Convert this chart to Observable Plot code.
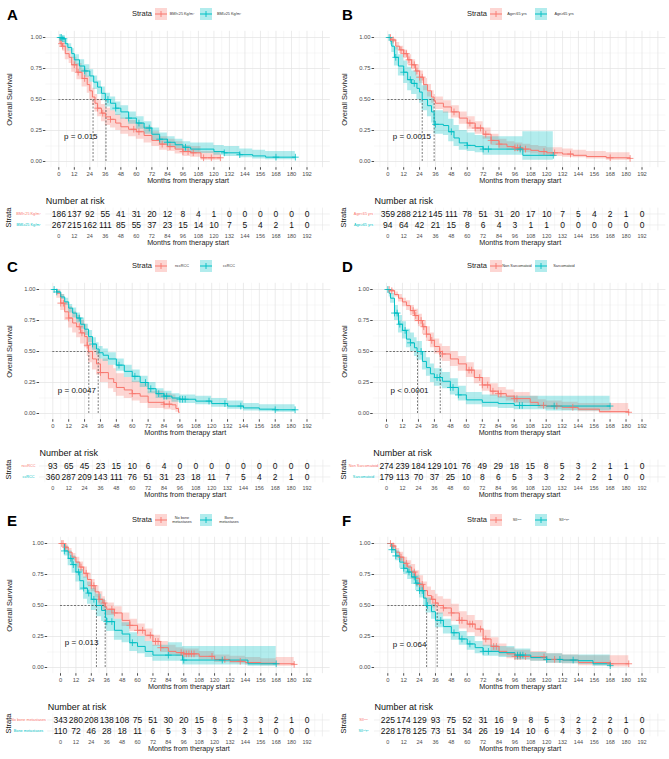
<!DOCTYPE html>
<html><head><meta charset="utf-8">
<script src="https://cdn.jsdelivr.net/npm/d3@7"></script>
<script src="https://cdn.jsdelivr.net/npm/@observablehq/plot@0.6"></script>
<style>
body{margin:0;background:#fff;font-family:"Liberation Sans",Arial,sans-serif;}
#fig{position:relative;width:669px;height:759px;overflow:hidden;background:#fff;}
.panel{position:absolute;width:335px;height:252px;}
.panel svg{position:absolute;left:0;}
.letter{position:absolute;left:7px;top:7px;font-size:15px;font-weight:bold;line-height:1;color:#000;}
.leg{position:absolute;top:8px;height:12px;font-size:7.5px;color:#222;line-height:12px;}
.legtxt{position:absolute;top:0;font-size:3.8px;line-height:4.2px;color:#333;text-align:center;white-space:pre;transform:translate(-50%,-50%);}
</style></head>
<body><div id="fig"></div>
<script>
const COLORS = ["#F8766D", "#00BFC4"];
const xTicks = [0,12,24,36,48,60,72,84,96,108,120,132,144,156,168,180,192];
const yTicks = [0,0.25,0.5,0.75,1];

// ---------- Panel A: BMI ----------
const legendA = ["BMI<25 Kg/m²", "BMI≥25 Kg/m²"];
const strataA = ["BMI<25 Kg/m²", "BMI≥25 Kg/m²"];
const kmA_red = [[0,1,1,1],[1,.95,.92,.98],[3,.93,.89,.97],[5,.87,.82,.92],[8,.84,.79,.89],[10,.78,.72,.84],[14,.72,.66,.79],[18,.67,.60,.74],[22,.62,.55,.69],[24,.57,.50,.64],[26,.52,.45,.59],[28,.47,.40,.54],[30,.43,.36,.50],[33,.39,.32,.46],[36,.36,.29,.43],[40,.34,.27,.41],[44,.31,.25,.38],[48,.28,.22,.35],[54,.26,.20,.33],[60,.24,.18,.31],[66,.21,.15,.28],[72,.17,.12,.24],[78,.14,.09,.20],[84,.12,.08,.18],[90,.10,.06,.16],[96,.08,.04,.13],[102,.07,.035,.12],[110,.03,.01,.08],[125,.03,.01,.08]];
const kmA_teal = [[0,1,1,1],[3,.99,.98,1],[5,.95,.92,.98],[7,.92,.89,.95],[10,.87,.83,.91],[12,.82,.77,.86],[16,.77,.72,.82],[20,.73,.68,.78],[24,.69,.64,.74],[27,.64,.58,.69],[30,.60,.54,.65],[33,.55,.49,.60],[36,.50,.44,.55],[40,.47,.41,.52],[44,.43,.37,.48],[48,.40,.34,.45],[54,.35,.30,.40],[60,.31,.26,.36],[66,.27,.22,.32],[72,.22,.17,.27],[78,.18,.14,.23],[84,.155,.12,.20],[90,.135,.10,.18],[96,.115,.08,.16],[102,.10,.065,.15],[120,.08,.05,.13],[128,.07,.04,.12],[140,.055,.03,.10],[150,.045,.02,.09],[160,.035,.015,.08],[183,.035,.015,.08]];
const censA_red = [2,3,12,15,20,30,34,40,58,62,80,86,96,100,104,112,118,125];
const censA_teal = [1,2,3,4,20,38,44,54,62,70,78,84,98,128,140,168,183];
const riskA_red = [186,137,92,55,41,31,20,12,8,4,1,0,0,0,0,0,0];
const riskA_teal = [267,215,162,111,85,55,37,23,15,14,10,7,5,4,2,1,0];
const medianA = [26.5, 36.5];
const pA = "p = 0.015";

// ---------- Panel B: Age ----------
const legendB = ["Age<65 yrs", "Age≥65 yrs"];
const strataB = ["Age<65 yrs", "Age≥65 yrs"];
const kmB_red = [[0,1,1,1],[3,.98,.96,.99],[6,.93,.90,.96],[9,.90,.87,.93],[12,.87,.83,.90],[15,.82,.78,.86],[18,.78,.74,.82],[21,.73,.69,.78],[24,.68,.63,.73],[27,.62,.57,.67],[30,.57,.52,.62],[33,.52,.47,.57],[35,.49,.44,.54],[36,.47,.42,.52],[42,.44,.39,.49],[48,.40,.35,.45],[54,.35,.30,.40],[60,.31,.26,.36],[66,.27,.22,.32],[72,.22,.18,.27],[78,.17,.13,.22],[84,.14,.10,.18],[90,.12,.09,.16],[96,.11,.08,.15],[102,.10,.07,.14],[108,.09,.06,.13],[114,.08,.05,.12],[120,.07,.04,.11],[132,.06,.035,.10],[140,.05,.03,.09],[150,.04,.02,.08],[165,.03,.01,.07],[183,.025,.01,.07]];
const kmB_teal = [[0,1,1,1],[2,.97,.94,1],[3,.93,.88,.98],[5,.84,.77,.92],[8,.77,.69,.86],[12,.72,.63,.81],[15,.66,.57,.76],[18,.63,.54,.73],[22,.59,.50,.69],[24,.56,.47,.67],[26,.50,.41,.61],[30,.45,.36,.56],[33,.40,.31,.51],[35,.30,.22,.41],[42,.29,.21,.40],[46,.24,.16,.34],[50,.19,.12,.29],[54,.15,.09,.25],[60,.13,.08,.23],[66,.12,.07,.21],[72,.10,.05,.20],[102,.05,.01,.24],[125,.05,.01,.24]];
const censB_red = [2,4,10,12,14,16,18,20,22,24,26,50,62,66,70,74,78,84,96,98,100,104,118,126,138,168,183];
const censB_teal = [1,6,12,17,20,36,48,60,72,76,100,125];
const riskB_red = [359,288,212,145,111,78,51,31,20,17,10,7,5,4,2,1,0];
const riskB_teal = [94,64,42,21,15,8,6,4,3,1,1,0,0,0,0,0,0];
const medianB = [35, 26];
const pB = "p = 0.0015";

// ---------- Panel C: histology ----------
const legendC = ["nccRCC", "ccRCC"];
const strataC = ["nccRCC", "ccRCC"];
const kmC_red = [[0,1,1,1],[3,.97,.93,1],[6,.89,.83,.96],[9,.82,.75,.90],[12,.77,.69,.86],[15,.73,.65,.82],[18,.70,.61,.79],[21,.65,.56,.75],[24,.62,.53,.72],[26,.55,.46,.66],[27,.50,.41,.61],[30,.44,.35,.55],[33,.40,.31,.51],[36,.33,.25,.44],[42,.28,.20,.39],[46,.25,.17,.36],[48,.21,.14,.32],[54,.19,.12,.29],[60,.16,.10,.26],[66,.14,.08,.24],[72,.09,.04,.18],[84,.075,.03,.16],[90,.07,.025,.15],[93,.04,.01,.12],[95,.01,0,.05],[95.6,.01,0,.05]];
const kmC_teal = [[0,1,1,1],[3,.98,.97,.99],[6,.94,.92,.96],[9,.90,.87,.93],[12,.85,.81,.88],[15,.81,.77,.85],[18,.77,.73,.81],[21,.72,.68,.77],[24,.68,.63,.72],[27,.62,.57,.67],[30,.56,.51,.61],[33,.52,.47,.57],[35,.49,.44,.54],[38,.47,.42,.52],[42,.44,.39,.49],[48,.39,.34,.44],[54,.34,.29,.39],[60,.30,.25,.35],[66,.25,.21,.30],[72,.20,.16,.25],[78,.16,.12,.20],[84,.14,.11,.18],[90,.125,.09,.16],[96,.115,.08,.15],[108,.10,.07,.14],[120,.08,.05,.12],[132,.06,.035,.10],[144,.045,.02,.08],[156,.035,.015,.07],[168,.03,.01,.07],[183,.03,.01,.07]];
const censC_red = [6,8,12,20,22,26,36,60,84,88];
const censC_teal = [1,3,20,30,50,62,70,74,80,84,86,96,98,100,118,130,142,168,183];
const riskC_red = [93,65,45,23,15,10,6,4,0,0,0,0,0,0,0,0,0];
const riskC_teal = [360,287,209,143,111,76,51,31,23,18,11,7,5,4,2,1,0];
const medianC = [27.2, 34.3];
const pC = "p = 0.0047";

// ---------- Panel D: sarcomatoid ----------
const legendD = ["Non Sarcomatoid", "Sarcomatoid"];
const strataD = ["Non Sarcomatoid", "Sarcomatoid"];
const kmD_red = [[0,1,1,1],[3,.99,.98,1],[6,.96,.94,.98],[9,.93,.90,.96],[12,.90,.86,.93],[15,.87,.83,.91],[18,.83,.79,.87],[21,.79,.74,.84],[24,.75,.70,.80],[27,.70,.64,.75],[30,.64,.58,.70],[33,.59,.53,.65],[36,.54,.48,.60],[40,.50,.44,.56],[42,.48,.42,.54],[48,.44,.38,.50],[54,.40,.34,.46],[60,.35,.29,.41],[66,.29,.24,.35],[72,.23,.18,.29],[78,.18,.14,.24],[84,.16,.12,.21],[90,.14,.10,.19],[96,.12,.08,.17],[108,.09,.06,.14],[114,.065,.04,.11],[120,.06,.035,.10],[132,.05,.025,.09],[144,.035,.015,.08],[160,.015,0,.08],[182,.01,0,.08]];
const kmD_teal = [[0,1,1,1],[2,.97,.94,.99],[3,.93,.89,.97],[6,.81,.75,.87],[9,.72,.65,.79],[12,.67,.60,.74],[15,.60,.53,.68],[18,.57,.50,.65],[21,.53,.46,.61],[23,.50,.43,.58],[27,.42,.35,.50],[30,.37,.30,.45],[33,.32,.25,.40],[36,.29,.22,.36],[42,.26,.20,.33],[48,.21,.15,.28],[54,.15,.10,.22],[60,.11,.07,.17],[72,.09,.05,.15],[84,.08,.04,.14],[96,.065,.03,.14],[120,.06,.02,.14],[168,.06,.02,.14]];
const censD_red = [2,4,20,22,24,26,28,30,34,40,42,62,64,70,72,76,80,84,86,96,98,118,128,140,182];
const censD_teal = [1,6,8,10,14,18,26,38,40,48,50,54,100,102,126,168];
const riskD_red = [274,239,184,129,101,76,49,29,18,15,8,5,3,2,1,1,0];
const riskD_teal = [179,113,70,37,25,10,8,6,5,3,3,2,2,2,1,0,0];
const medianD = [40.4, 23.3];
const pD = "p < 0.0001";

// ---------- Panel E: bone metastases ----------
const legendE = ["No bone\nmetastases", "Bone\nmetastases"];
const strataE = ["No bone metastases", "Bone metastases"];
const kmE_red = [[0,1,1,1],[3,.97,.95,.99],[6,.93,.90,.96],[9,.89,.86,.92],[12,.85,.81,.89],[15,.81,.77,.85],[18,.76,.72,.81],[21,.71,.66,.76],[24,.66,.61,.71],[27,.61,.56,.66],[30,.55,.50,.61],[33,.52,.46,.57],[35,.49,.44,.54],[36,.47,.42,.52],[42,.44,.39,.49],[48,.38,.33,.44],[54,.34,.29,.39],[60,.30,.25,.35],[66,.26,.21,.31],[72,.21,.17,.26],[78,.16,.12,.21],[84,.13,.10,.18],[90,.12,.09,.16],[96,.11,.08,.15],[108,.09,.06,.13],[120,.065,.04,.10],[132,.05,.03,.09],[144,.04,.02,.08],[156,.035,.015,.07],[168,.03,.01,.08],[182,.025,0,.08]];
const kmE_teal = [[0,1,1,1],[3,.94,.90,.98],[6,.88,.82,.94],[9,.83,.76,.90],[12,.77,.69,.85],[15,.70,.62,.79],[18,.64,.55,.73],[21,.60,.51,.69],[24,.55,.46,.64],[28,.50,.41,.59],[32,.46,.37,.55],[35,.40,.31,.49],[36,.37,.29,.46],[42,.30,.22,.39],[48,.27,.20,.36],[54,.20,.13,.28],[60,.17,.11,.25],[66,.13,.08,.21],[72,.10,.05,.18],[84,.10,.05,.20],[95,.06,.02,.17],[146,.03,.01,.17],[168,.03,.01,.17]];
const censE_red = [1,2,4,16,20,24,26,30,34,40,42,54,60,64,70,74,76,78,94,96,98,100,102,104,118,128,140,182];
const censE_teal = [3,8,10,14,18,22,26,36,40,56,84,96,126,168];
const riskE_red = [343,280,208,138,108,75,51,30,20,15,8,5,3,3,2,1,0];
const riskE_teal = [110,72,46,28,18,11,6,5,3,3,3,2,2,1,0,0,0];
const medianE = [34.8, 28];
const pE = "p = 0.013";

// ---------- Panel F: SII ----------
const legendF = ["SIIˡᵒʷ", "SIIʰⁱᵍʰ"];
const strataF = ["SIIˡᵒʷ", "SIIʰⁱᵍʰ"];
const kmF_red = [[0,1,1,1],[3,.98,.96,1],[6,.93,.89,.96],[9,.89,.85,.93],[12,.84,.79,.89],[15,.81,.76,.86],[18,.77,.71,.83],[21,.72,.66,.78],[24,.67,.61,.74],[27,.62,.55,.69],[30,.58,.51,.65],[33,.55,.48,.62],[36,.52,.45,.59],[38,.50,.43,.57],[42,.48,.41,.55],[48,.44,.37,.51],[54,.38,.31,.45],[60,.35,.28,.42],[66,.31,.25,.38],[72,.23,.17,.30],[78,.17,.12,.24],[84,.13,.09,.19],[90,.11,.07,.16],[96,.09,.06,.14],[108,.085,.05,.13],[120,.065,.035,.11],[132,.06,.03,.10],[144,.04,.015,.095],[168,.03,.005,.095],[182,.03,.005,.095]];
const kmF_teal = [[0,1,1,1],[3,.95,.92,.98],[6,.90,.86,.94],[9,.85,.80,.89],[12,.80,.75,.85],[15,.77,.71,.82],[18,.73,.67,.78],[21,.68,.62,.74],[24,.62,.56,.68],[27,.56,.50,.62],[29,.50,.44,.56],[33,.45,.39,.51],[36,.38,.32,.44],[42,.33,.27,.39],[48,.28,.22,.34],[54,.23,.18,.29],[60,.19,.14,.25],[66,.16,.11,.21],[72,.13,.09,.18],[84,.12,.08,.17],[96,.10,.06,.15],[108,.08,.05,.12],[120,.065,.035,.11],[132,.06,.03,.10],[144,.055,.025,.10],[155,.03,.01,.10],[168,.015,0,.10]];
const censF_red = [2,4,10,14,20,24,26,34,36,42,48,54,56,62,64,70,74,80,82,96,98,100,104,118,126,168,182];
const censF_teal = [3,6,12,16,20,22,24,26,30,40,50,56,62,72,76,98,100,102,120,130,140,168];
const riskF_red = [225,174,129,93,75,52,31,16,9,8,5,3,2,2,2,1,0];
const riskF_teal = [228,178,125,73,51,34,26,19,14,10,6,4,3,2,0,0,0];
const medianF = [37.3, 29.3];
const pF = "p = 0.064";

// p-value label anchor (months, survival)
const pPos = [[4,0.2],[3.8,0.2],[3.8,0.19],[3,0.19],[3.4,0.2],[3.8,0.19]];

// ---------- layout ----------
const panels = [
  {letter:"A", ox:0,   oy:0,   x0:58.3, legend:legendA, strata:strataA, km:[kmA_red,kmA_teal], cens:[censA_red,censA_teal], risk:[riskA_red,riskA_teal], med:medianA, p:pA},
  {letter:"B", ox:335, oy:0,   x0:52.3, legend:legendB, strata:strataB, km:[kmB_red,kmB_teal], cens:[censB_red,censB_teal], risk:[riskB_red,riskB_teal], med:medianB, p:pB},
  {letter:"C", ox:0,   oy:252, x0:52.3, legend:legendC, strata:strataC, km:[kmC_red,kmC_teal], cens:[censC_red,censC_teal], risk:[riskC_red,riskC_teal], med:medianC, p:pC},
  {letter:"D", ox:335, oy:252, x0:51,   legend:legendD, strata:strataD, km:[kmD_red,kmD_teal], cens:[censD_red,censD_teal], risk:[riskD_red,riskD_teal], med:medianD, p:pD},
  {letter:"E", ox:0,   oy:506, x0:60,   legend:legendE, strata:strataE, km:[kmE_red,kmE_teal], cens:[censE_red,censE_teal], risk:[riskE_red,riskE_teal], med:medianE, p:pE},
  {letter:"F", ox:335, oy:506, x0:52.3, legend:legendF, strata:strataF, km:[kmF_red,kmF_teal], cens:[censF_red,censF_teal], risk:[riskF_red,riskF_teal], med:medianF, p:pF}
];

const FONT = "Liberation Sans, Arial, sans-serif";
const xDom = [-10, 210];
const minorX = d3.range(-6, 210, 12);
const majorXgrid = d3.range(0, 210, 12);
const minorY = [0.125, 0.375, 0.625, 0.875];

function stepAt(curve, t) {
  let s = curve[0][1];
  for (const r of curve) { if (r[0] <= t) s = r[1]; else break; }
  return s;
}

function legendKey(color) {
  return `<svg width="12" height="12" style="position:absolute;left:0;top:0">
    <rect x="0" y="0" width="12" height="12" fill="${color}" fill-opacity="0.3"/>
    <line x1="0" y1="6" x2="12" y2="6" stroke="${color}" stroke-width="1"/>
    <line x1="6" y1="3" x2="6" y2="9" stroke="${color}" stroke-width="0.9"/>
  </svg>`;
}

const fig = document.getElementById("fig");
panels.forEach((P, pi) => {
  const div = document.createElement("div");
  div.className = "panel";
  div.style.left = P.ox + "px";
  div.style.top = P.oy + "px";
  fig.appendChild(div);

  const k = (306.5 - P.x0) / 192;
  const mL = P.x0 - 10 * k;
  const mR = 335 - (306.5 + 18 * k);

  const rows = P.km.map((c, g) => c.map(r => ({t: r[0], s: r[1], lo: r[2], hi: r[3], g})));
  const cens = P.cens.map((arr, g) => arr.map(t => ({t, s: stepAt(P.km[g], t), g})));

  const km = Plot.plot({
    width: 335, height: 190,
    marginLeft: mL, marginRight: mR, marginTop: 30.8, marginBottom: 22.8,
    x: {domain: xDom}, y: {domain: [-0.05, 1.05]},
    style: {fontFamily: FONT, background: "transparent", overflow: "visible"},
    marks: [
      Plot.ruleX(minorX, {stroke: "#efefef", strokeWidth: 0.5}),
      Plot.ruleY(minorY, {stroke: "#efefef", strokeWidth: 0.5}),
      Plot.ruleX(majorXgrid, {stroke: "#e2e2e2", strokeWidth: 0.7}),
      Plot.ruleY(yTicks, {stroke: "#e2e2e2", strokeWidth: 0.7}),
      ...rows.map((r, g) => Plot.areaY(r, {x: "t", y1: "lo", y2: "hi", fill: COLORS[g], fillOpacity: 0.3, curve: "step-after"})),
      Plot.ruleX(P.med, {y1: 0, y2: 0.5, stroke: "#222", strokeWidth: 0.6, strokeDasharray: "2,1.5"}),
      Plot.ruleY([0.5], {x1: 0, x2: d3.max(P.med), stroke: "#222", strokeWidth: 0.6, strokeDasharray: "2,1.5"}),
      ...rows.map((r, g) => Plot.line(r, {x: "t", y: "s", stroke: COLORS[g], strokeWidth: 1, curve: "step-after"})),
      ...cens.map((c, g) => Plot.dot(c, {x: "t", y: "s", symbol: "plus", r: 2.3, stroke: COLORS[g], strokeWidth: 0.8})),
      Plot.text([P.p], {x: pPos[pi][0], y: pPos[pi][1], text: d => d, textAnchor: "start", fontSize: 8, fill: "#111"}),
      Plot.axisX({ticks: xTicks, tickSize: 2.5, tickPadding: 1.5, fontSize: 5.8, label: null, color: "#4d4d4d"}),
      Plot.axisY({ticks: yTicks, tickFormat: d3.format(".2f"), tickSize: 2.5, tickPadding: 1.5, fontSize: 5.8, label: null, color: "#4d4d4d"}),
      Plot.text(["Months from therapy start"], {frameAnchor: "bottom", dy: 15.2, fontSize: 7.2, fill: "#222"}),
      Plot.text(["Overall Survival"], {frameAnchor: "left", dx: 9 - mL, rotate: -90, textAnchor: "middle", fontSize: 7.5, fill: "#222"})
    ]
  });
  km.style.top = "0px";
  div.appendChild(km);

  const riskRows = P.risk.flatMap((arr, g) => arr.map((n, i) => ({t: xTicks[i], n, g})));
  const risk = Plot.plot({
    width: 335, height: 58,
    marginLeft: mL, marginRight: mR, marginTop: 17.6, marginBottom: 17.6,
    x: {domain: xDom}, y: {domain: [0, 1], type: "band", padding: 0, axis: null},
    style: {fontFamily: FONT, background: "transparent", overflow: "visible"},
    marks: [
      Plot.ruleX(minorX, {stroke: "#efefef", strokeWidth: 0.5}),
      Plot.ruleX(majorXgrid, {stroke: "#e6e6e6", strokeWidth: 0.6}),
      Plot.ruleY([0, 1], {y: d => d, stroke: "#e6e6e6", strokeWidth: 0.6}),
      Plot.text(riskRows, {x: "t", y: "g", text: d => String(d.n), fontSize: 8.5, fill: "#111"}),
      Plot.text([P.strata[0]], {y: () => 0, frameAnchor: "left", dx: 28 - mL, textAnchor: "middle", fontSize: 3.8, fill: COLORS[0]}),
      Plot.text([P.strata[1]], {y: () => 1, frameAnchor: "left", dx: 28 - mL, textAnchor: "middle", fontSize: 3.8, fill: COLORS[1]}),
      Plot.text(["Strata"], {frameAnchor: "left", dx: 8 - mL, dy: -2, rotate: -90, textAnchor: "middle", fontSize: 7.5, fill: "#111"}),
      Plot.text(["Number at risk"], {frameAnchor: "top-left", dy: -10.6, textAnchor: "start", fontSize: 9, fill: "#111"}),
      Plot.axisX({ticks: xTicks, tickSize: 0, tickPadding: 3, fontSize: 5.5, label: null, color: "#4d4d4d"}),
      Plot.text(["Months from therapy start"], {frameAnchor: "bottom", dy: 14.5, fontSize: 7.2, fill: "#222"})
    ]
  });
  risk.style.top = "190px";
  div.appendChild(risk);

  // letter
  const L = document.createElement("div");
  L.className = "letter";
  L.textContent = P.letter;
  div.appendChild(L);

  // legend
  const leg = document.createElement("div");
  leg.className = "leg";
  leg.style.left = "0px";
  leg.style.width = "335px";
  leg.innerHTML = `
    <span style="position:absolute;right:${335-152}px;top:0">Strata</span>
    <div style="position:absolute;left:155px;top:0;width:12px;height:12px">${legendKey(COLORS[0])}</div>
    <div class="legtxt" style="left:182px;top:6px">${P.legend[0]}</div>
    <div style="position:absolute;left:200px;top:0;width:12px;height:12px">${legendKey(COLORS[1])}</div>
    <div class="legtxt" style="left:229px;top:6px">${P.legend[1]}</div>`;
  div.appendChild(leg);
});
</script>
</body></html>
